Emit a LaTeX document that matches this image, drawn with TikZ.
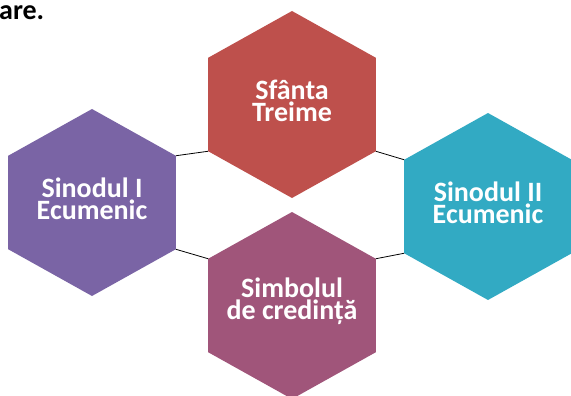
\documentclass[tikz,border=0pt]{standalone}
\usepackage{fontspec}
\setmainfont{Carlito}
\usetikzlibrary{shapes.geometric}

\definecolor{hexred}{RGB}{190,80,76}
\definecolor{hexpurple}{RGB}{122,100,165}
\definecolor{hexteal}{RGB}{50,170,195}
\definecolor{hexrose}{RGB}{160,85,122}

\tikzset{
  hexa/.style={regular polygon, regular polygon sides=6, shape border rotate=30,
    minimum size=187pt, inner sep=0pt, outer sep=0pt, xscale=1.035, transform shape},
  hexlabel/.style={text=white, align=center, inner sep=0pt, yshift=4pt,
    font=\bfseries\fontsize{28}{22}\selectfont},
  link/.style={draw=black, line width=0.8pt}
}

\begin{document}
\begin{tikzpicture}[x=1pt, y=-1pt]
				\useasboundingbox (0,0) rectangle (571,396);
				% Nodes
				\node[font=\bfseries\fontsize{28}{22}\selectfont, anchor=base west, inner sep=0pt] (tail) at (-1, 20) {are.};
				\node[hexa, fill=hexred] (treime) at (292, 104.5) {};
				\node[hexa, fill=hexpurple] (sinod1) at (92, 202.5) {};
				\node[hexa, fill=hexteal] (sinod2) at (488, 206.5) {};
				\node[hexa, fill=hexrose] (simbol) at (292, 305.5) {};

				% Labels
				\node[hexlabel] (treimetext) at (treime) {Sfânta\\Treime};
				\node[hexlabel] (sinod1text) at (sinod1) {Sinodul I\\Ecumenic};
				\node[hexlabel] (sinod2text) at (sinod2) {Sinodul II\\Ecumenic};
				\node[hexlabel] (simboltext) at (simbol) {Simbolul\\de credință};

				% Edges
				\draw[link] (sinod1.30) -- (treime.210);
				\draw[link] (sinod1.330) -- (simbol.150);
				\draw[link] (treime.330) -- (sinod2.150);
				\draw[link] (simbol.30) -- (sinod2.210);
			\end{tikzpicture}
\end{document}
